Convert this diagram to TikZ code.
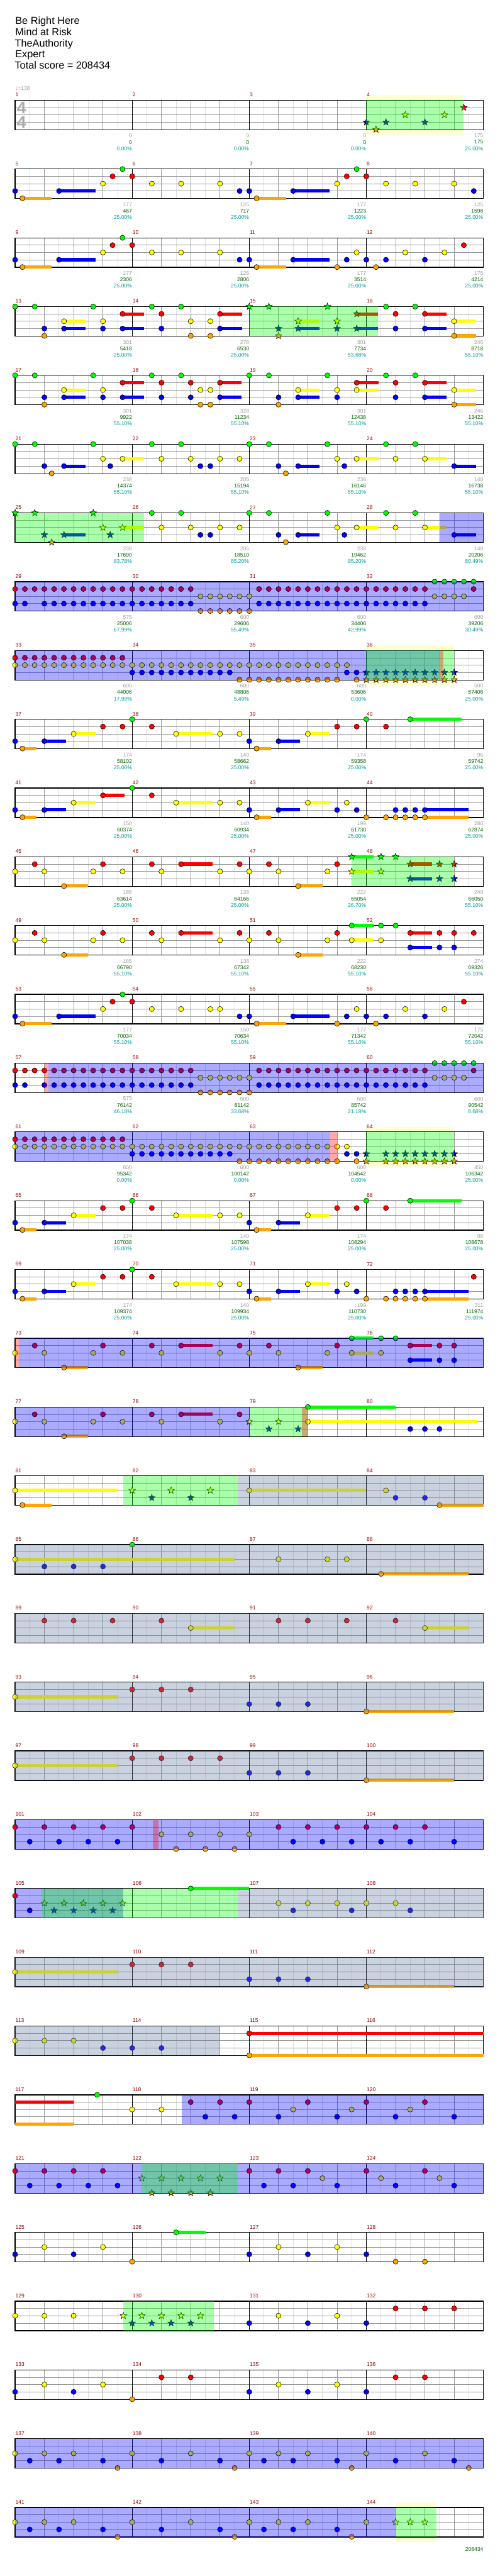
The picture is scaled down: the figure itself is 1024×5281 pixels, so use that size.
\documentclass[tikz,border=0pt]{standalone}
\usepackage{fontspec}
\setmainfont{Liberation Sans}
\newfontfamily\djv{DejaVu Sans}
\definecolor{L0}{RGB}{0,255,0}
\definecolor{L1}{RGB}{255,0,0}
\definecolor{L2}{RGB}{255,255,0}
\definecolor{L3}{RGB}{0,0,255}
\definecolor{L4}{RGB}{255,165,0}
\definecolor{GY}{RGB}{100,120,160}
\definecolor{MN}{RGB}{139,0,0}
\definecolor{SG}{RGB}{160,160,160}
\definecolor{SC}{RGB}{0,100,0}
\definecolor{SP}{RGB}{0,153,153}
\definecolor{HL}{RGB}{255,255,208}
\definecolor{GL}{RGB}{221,221,221}
\definecolor{GM}{RGB}{153,153,153}
\definecolor{TS}{RGB}{170,170,170}
\tikzset{
 smallfont/.style={font=\fontsize{5.5pt}{6pt}\selectfont, inner sep=0pt},
 mnum/.style={smallfont, text=MN, anchor=west},
 sgray/.style={smallfont, text=SG, anchor=east},
 sgreen/.style={smallfont, text=SC, anchor=east},
 scyan/.style={smallfont, text=SP, anchor=east},
 head/.style={font=\fontsize{10.5pt}{12pt}\selectfont, anchor=base west, inner sep=0pt},
 tsig/.style={font=\fontsize{17pt}{18pt}\selectfont\bfseries, text=TS, inner sep=0pt},
 halfline/.style={GL, line width=0.5pt},
 beatline/.style={GM, line width=0.5pt},
 barline/.style={black, line width=0.5pt},
 staffbox/.style={black, line width=0.8pt},
 notedot/.style={draw=black, line width=0.35pt},
 sus/.style={line width=3.3pt},
}
\newcommand\SetRow[1]{\pgfmathsetmacro\RT{205.5+141*#1}}
\newcommand\Staff[1]{%
 \fill[white] (31,\RT) rectangle (991,{\RT+60.5});
 \foreach \i in {1,3,...,31}{\draw[halfline] ({31+30*\i},\RT) -- ({31+30*\i},{\RT+60.5});}
 \foreach \i in {1,2,3,5,6,7,9,10,11,13,14,15}{\draw[beatline] ({31+60*\i},\RT) -- ({31+60*\i},{\RT+60.5});}
 \foreach \j in {15,30,45}{\draw[beatline] (31,{\RT+\j}) -- (991,{\RT+\j});}
 \foreach \i in {4,8,12}{\draw[barline] ({31+60*\i},\RT) -- ({31+60*\i},{\RT+60.5});}
 \draw[staffbox] (31,\RT) rectangle (991,{\RT+60.5});
 \foreach \i in {0,...,3}{\pgfmathtruncatemacro\mm{4*#1+\i+1}\node[mnum] (mn\mm) at ({31.5+240*\i},{\RT-11}) {\mm};}
}
\newcommand\Scores[2]{%
 \foreach \i/\g/\c/\p in {#2}{\pgfmathtruncatemacro\mm{4*#1+\i+1}
  \node[sgray] (sa\mm) at ({271+240*\i},{\RT+73}) {\g};
  \node[sgreen] (sb\mm) at ({271+240*\i},{\RT+86}) {\c};
  \node[scyan] (sc\mm) at ({271+240*\i},{\RT+99}) {\p\%};}
}
\newcommand\Nt[2]{\foreach \b in {#2}{\filldraw[notedot, fill=L#1] ({31+60*\b},{\RT+15*#1}) circle[radius=2.65pt];}}
\newcommand\Su[2]{\foreach \s/\e in {#2}{\draw[sus, L#1] ({31+60*\s},{\RT+15*#1}) -- ({31+60*\e},{\RT+15*#1});}}
\newcommand\St[2]{\foreach \b in {#2}{\filldraw[notedot, fill=L#1, shift={({31+60*\b},{\RT+15*#1})}] (90:3.6pt) -- (126:1.5pt) -- (162:3.6pt) -- (198:1.5pt) -- (234:3.6pt) -- (270:1.5pt) -- (306:3.6pt) -- (342:1.5pt) -- (18:3.6pt) -- (54:1.5pt) -- cycle;}}
\newcommand\Ov[3]{\fill[#1, opacity=0.3333] ({31+60*#2},\RT) rectangle ({31+60*#3},{\RT+60.5});}
\newcommand\Hl[2]{\fill[HL] ({31+60*#1},{\RT-10.5}) rectangle ({31+60*#2},{\RT+71});}
\begin{document}
\begin{tikzpicture}[x=0.5pt,y=-0.5pt]
\useasboundingbox (0,0) rectangle (1024,5281);
\fill[white] (0,0) rectangle (1024,5281);
% header
\node[head] (t1) at (31,49.5) {Be Right Here};
\node[head] (t2) at (31,72.5) {Mind at Risk};
\node[head] (t3) at (30,95.5) {TheAuthority};
\node[head] (t4) at (31,118.5) {Expert};
\node[head] (t5) at (30,141.5) {Total score = 208434};
\node[smallfont, text=SG, anchor=base west] (tempo) at (31,185) {{\djv ♩}=138};
% ---------- row 0
\SetRow{0}
\Hl{12}{15.33}
\Staff{0}
\node[tsig] (ts1) at (44,221) {4};
\node[tsig] (ts2) at (44,251) {4};
\Scores{0}{0/0/0/0.00,1/0/0/0.00,2/0/0/0.00,3/175/175/25.00}
\St{3}{12,12.67,14}\St{4}{12.33}\St{2}{13.33,14.67}\St{1}{15.33}
\Ov{L0}{12}{15.33}
% ---------- row 1
\SetRow{1}
\Staff{1}
\Scores{1}{0/177/467/25.00,1/125/717/25.00,2/177/1223/25.00,3/125/1598/25.00}
\Su{4}{0.25/1.25,8.25/9.25}\Su{3}{1.5/2.75,9.5/10.75}
\Nt{3}{0,1.5,7.67,8,9.5,15.67}
\Nt{4}{0.25,8.25}
\Nt{2}{3,4.67,5.67,7,11,12.67,13.67,15}
\Nt{1}{3.33,4,11.33,12}
\Nt{0}{3.67,11.67}
% ---------- row 2
\SetRow{2}
\Staff{2}
\Scores{2}{0/177/2306/25.00,1/125/2806/25.00,2/177/3514/25.00,3/175/4214/25.00}
\Su{4}{0.25/1.25,8.25/9.25}\Su{3}{1.5/2.75,9.5/10.75}
\Nt{3}{0,1.5,7.67,8,9.5,11.33,12,12.67,14}
\Nt{4}{0.25,8.25,11,12.33}
\Nt{2}{3,4.67,5.67,7,11.67,13.33,14.67}
\Nt{1}{3.33,4,15.33}
\Nt{0}{3.67}
% ---------- row 3
\SetRow{3}
\Staff{3}
\Scores{3}{0/301/5418/25.00,1/278/6530/25.00,2/301/7734/53.68,3/246/8718/55.10}
\Su{1}{3.67/4.4,7/7.75,14/14.75,11.67/12.4}
\Su{2}{1.67/2.4,15/15.75,9.67/10.4}
\Su{3}{1.67/2.4,3.67/4.4,7/7.75,14/14.75,9.67/10.4,11.67/12.4}
\Su{4}{15/15.75}
\Nt{0}{0,0.67,2.67,4.67,5.67,12.67,13.67}
\Nt{1}{3.67,5,7,13,14}
\Nt{2}{1.67,3,6,6.67,15}
\Nt{3}{1,1.67,3,3.67,5,7,13,14}
\Nt{4}{1,6,6.67,15}
\St{0}{8,8.67,10.67}\St{3}{9,9.67,11,11.67}\St{4}{9}\St{2}{9.67,11}\St{1}{11.67}
\Ov{L0}{8}{12.4}
% ---------- row 4
\SetRow{4}
\Staff{4}
\Scores{4}{0/301/9922/55.10,1/328/11234/55.10,2/301/12438/55.10,3/246/13422/55.10}
\Su{1}{3.67/4.41,7/7.74,11.67/12.41,14/14.75}
\Su{2}{1.67/2.41,9.67/10.4,11.67/12.41,15/15.74}
\Su{3}{1.67/2.41,3.67/4.41,7/7.74,9.67/10.4,14/14.75}
\Su{4}{15/15.74}
\Nt{0}{0,0.67,2.67,4.67,5.67,8,8.67,10.67,12.67,13.67}
\Nt{1}{3.67,5,6,7,11.67,13,14}
\Nt{2}{1.67,3,6.33,6.67,9.67,11,11.67,15}
\Nt{3}{1,1.67,3,3.67,5,6,7,9,9.67,11,13,14}
\Nt{4}{1,6.33,6.67,9,15}
% ---------- row 5
\SetRow{5}
\Staff{5}
\Scores{5}{0/238/14374/55.10,1/205/15194/55.10,2/238/16146/55.10,3/148/16738/55.10}
\Su{2}{3.67/4.41,11.67/12.41,14/14.75}
\Su{3}{1.67/2.41,9.67/10.4,15/15.74}
\Nt{0}{0,0.67,2.67,4.67,5.67,8,8.67,10.67,12.67,13.67}
\Nt{2}{3,3.67,5,6,7,7.67,11,11.67,13,14}
\Nt{3}{1,1.67,3.25,6.33,6.67,9,9.67,11.25,15}
\Nt{4}{1.25,9.25}
% ---------- row 6
\SetRow{6}
\Staff{6}
\Scores{6}{0/238/17690/83.78,1/205/18510/85.20,2/238/19462/85.20,3/148/20206/80.49}
\Su{2}{3.67/4.41,11.67/12.41,14/14.75}
\Su{3}{1.67/2.41,9.67/10.4,15/15.74}
\St{0}{0,0.67,2.67}\St{2}{3,3.67}\St{3}{1,1.67,3.25}\St{4}{1.25}
\Nt{0}{4.67,5.67,8,8.67,10.67,12.67,13.67}
\Nt{2}{5,6,7,7.67,11,11.67,13,14}
\Nt{3}{6.33,6.67,9,9.67,11.25,15}
\Nt{4}{9.25}
\Ov{L0}{0}{4.41}
\Ov{L3}{14.5}{16}
% ---------- row 7
\SetRow{7}
\Staff{7}
\Scores{7}{0/575/25006/67.99,1/600/29606/55.49,2/600/34406/42.99,3/600/39206/30.49}
\Nt{1}{0,0.33333,...,6}
\Nt{3}{0,0.33333}\Nt{3}{1,1.33333,...,6}
\Nt{2}{6.33333,6.66666,...,8}\Nt{4}{6.33333,6.66666,...,8}
\Nt{1}{8.33333,8.66666,...,14}\Nt{3}{8.33333,8.66666,...,14}
\Nt{0}{14.33333,14.66666,...,15.67}\Nt{2}{14.33333,14.66666,...,15.34}\Nt{1}{15.66667}
\Ov{L3}{0}{16}
% ---------- row 8
\SetRow{8}
\Hl{12}{15}
\Staff{8}
\Scores{8}{0/600/44006/17.99,1/600/48806/5.49,2/600/53606/0.00,3/500/57406/25.00}
\Nt{1}{0,0.33333,...,3.67}
\Nt{2}{0,0.33333,...,11.34}
\Nt{3}{4,4.33333,...,7.34}\Nt{3}{11.33333,11.66667}
\Nt{4}{7.66667,8,...,11.01}\Nt{4}{11.66667}
\St{3}{12,12.33333,...,15.01}\St{4}{12,12.33333,...,15.01}
\Ov{L3}{0}{14.5}
\Ov{L0}{12}{15}
\Ov{L1}{14.5}{14.64}
% ---------- row 9
\SetRow{9}
\Staff{9}
\Scores{9}{0/174/58102/25.00,1/140/58662/25.00,2/174/59358/25.00,3/96/59742/25.00}
\Su{4}{0.25/0.74,8.25/8.74}\Su{3}{1/1.74,9/9.74}\Su{2}{2/2.74,5.5/6.75,10/10.74}\Su{0}{13.5/15.25}
\Nt{3}{0,1,8,9}
\Nt{4}{0.25,8.25}
\Nt{2}{2,5.5,7,7.67,10}
\Nt{1}{3,3.67,4.67,11,11.67,12.67}
\Nt{0}{4,12,13.5}
% ---------- row 10
\SetRow{10}
\Staff{10}
\Scores{10}{0/158/60374/25.00,1/140/60934/25.00,2/199/61730/25.00,3/286/62874/25.00}
\Su{4}{0.25/0.74,8.25/8.74,14/15.5}\Su{3}{1/1.74,9/9.74,14/15.5}\Su{2}{2/2.74,5.5/6.75,10/10.74}\Su{1}{3/3.74}
\Nt{3}{0,1,8,9,11,11.67,13,13.33,13.67,14}
\Nt{4}{0.25,8.25,12,12.67,13,13.33,13.67,14}
\Nt{2}{2,5.5,7,7.67,10,11.33}
\Nt{1}{3,4.67}
\Nt{0}{4}
% ---------- row 11
\SetRow{11}
\Staff{11}
\Scores{11}{0/185/63614/25.00,1/138/64166/25.00,2/222/65054/26.70,3/249/66050/55.10}
\Su{1}{5.67/6.75,13.5/14.25}\Su{4}{1.67/2.5,9.67/10.5}\Su{0}{11.5/12.25}\Su{2}{11.5/12.25}\Su{3}{13.5/14.25}
\Nt{1}{0.67,3,4.67,5.67,7.67,8.67,11}
\Nt{2}{0,1,2.67,3.67,5,7,8,9,10.67}
\Nt{4}{1.67,9.67}
\St{0}{11.5,12.5,13}\St{2}{11.5,12.5}\St{1}{13.5,14.5,15}\St{3}{13.5,14.5,15}
\Ov{L0}{11.5}{15}
% ---------- row 12
\SetRow{12}
\Staff{12}
\Scores{12}{0/185/66790/55.10,1/138/67342/55.10,2/222/68230/55.10,3/274/69326/55.10}
\Su{1}{5.67/6.75,13.5/14.25}\Su{4}{1.67/2.5,9.67/10.5}\Su{0}{11.5/12.25}\Su{2}{11.5/12.25}\Su{3}{13.5/14.25}
\Nt{1}{0.67,3,4.67,5.67,7.67,8.67,11,13.5,14.5,15,15.67}
\Nt{2}{0,1,2.67,3.67,5,7,8,9,10.67,11.5,12.5}
\Nt{4}{1.67,9.67}
\Nt{0}{11.5,12.5,13}
\Nt{3}{13.5,14.5,15}
% ---------- row 13
\SetRow{13}
\Staff{13}
\Scores{13}{0/177/70034/55.10,1/150/70634/55.10,2/177/71342/55.10,3/175/72042/55.10}
\Su{4}{0.25/1.25,8.25/9.25}\Su{3}{1.5/2.75,9.5/10.75}
\Nt{3}{0,1.5,7.67,8,9.5,11.33,12,12.67,14}
\Nt{4}{0.25,8.25,11,12.33}
\Nt{2}{3,4.67,5.67,6.67,7,11.67,13.33,14.67}
\Nt{1}{3.33,4,15.33}
\Nt{0}{3.67}
% ---------- row 14
\SetRow{14}
\Staff{14}
\Scores{14}{0/575/76142/46.18,1/600/81142/33.68,2/600/85742/21.18,3/600/90542/8.68}
\Nt{1}{0,0.33333,...,6}
\Nt{3}{0,0.33333}\Nt{3}{1,1.33333,...,6}
\Nt{2}{6.33333,6.66666,...,8}\Nt{4}{6.33333,6.66666,...,8}
\Nt{1}{8.33333,8.66666,...,14}\Nt{3}{8.33333,8.66666,...,14}
\Nt{0}{14.33333,14.66666,...,15.67}\Nt{2}{14.33333,14.66666,...,15.34}\Nt{1}{15.66667}
\Ov{L3}{1.13}{16}
\Ov{L1}{1}{1.13}
% ---------- row 15
\SetRow{15}
\Hl{12}{15}
\Staff{15}
\Scores{15}{0/600/95342/0.00,1/600/100142/0.00,2/600/104542/0.00,3/450/106342/25.00}
\Nt{1}{0,0.33333,...,3.67}
\Nt{2}{0,0.33333,...,11.34}
\Nt{3}{4,4.33333,...,7.34}\Nt{3}{11.33333,11.66667}
\Nt{4}{7.66667,8,...,11.01}\Nt{4}{11.66667}
\St{3}{12}\St{3}{12.66667,13,...,15.01}\St{4}{12}\St{4}{12.66667,13,...,15.01}
\Ov{L3}{0}{10.76}
\Ov{L1}{10.76}{11}
\Ov{L0}{12}{15}
% ---------- row 16
\SetRow{16}
\Staff{16}
\Scores{16}{0/174/107038/25.00,1/140/107598/25.00,2/174/108294/25.00,3/96/108678/25.00}
\Su{4}{0.25/0.74,8.25/8.74}\Su{3}{1/1.74,9/9.74}\Su{2}{2/2.74,5.5/6.75,10/10.74}\Su{0}{13.5/15.25}
\Nt{3}{0,1,8,9}
\Nt{4}{0.25,8.25}
\Nt{2}{2,5.5,7,7.67,10}
\Nt{1}{3,3.67,4.67,11,11.67,12.67}
\Nt{0}{4,12,13.5}
% ---------- row 17
\SetRow{17}
\Staff{17}
\Scores{17}{0/174/109374/25.00,1/140/109934/25.00,2/199/110730/25.00,3/311/111974/25.00}
\Su{4}{0.25/0.74,8.25/8.74,14/15.5}\Su{3}{1/1.74,9/9.74,14/15.5}\Su{2}{2/2.74,5.5/6.75,10/10.74}
\Nt{3}{0,1,8,9,11,11.67,13,13.33,13.67,14}
\Nt{4}{0.25,8.25,12,12.67,13,13.33,13.67,14}
\Nt{2}{2,5.5,7,7.67,10,11.33}
\Nt{1}{3,3.67,4.67,15.67}
\Nt{0}{4}
% ---------- row 18
\SetRow{18}\Staff{18}
\Su{1}{5.67/6.75,13.5/14.25}\Su{4}{1.67/2.5,9.67/10.5}\Su{0}{11.5/12.25}\Su{2}{11.5/12.25}\Su{3}{13.5/14.25}
\Nt{1}{0.67,3,4.67,5.67,7.67,8.67,11,13.5,14.5,15}
\Nt{2}{0,1,2.67,3.67,5,7,8,9,10.67,11.5,12.5}
\Nt{4}{1.67,9.67}
\Nt{0}{11.5,12.5,13}
\Nt{3}{13.5,14.5,15}
\Ov{L3}{0.13}{16}\Ov{L1}{0}{0.13}
% ---------- row 19
\SetRow{19}\Staff{19}
\Su{1}{5.67/6.75}\Su{4}{1.67/2.5}\Su{0}{10/13}\Su{2}{10/15.8}
\Nt{1}{0.67,3,4.67,5.67,7.67}
\Nt{2}{0,1,2.67,3.67,5,7,10}
\Nt{4}{1.67}
\St{2}{8,9}\St{3}{8.67,9.67}
\Nt{0}{10}
\Nt{3}{13.5,14,14.5}
\Ov{L3}{0}{8}\Ov{L0}{8}{10}\Ov{L1}{9.8}{10}
% ---------- row 20
\SetRow{20}\Staff{20}
\Su{2}{0/3.5,8/12}\Su{4}{0.25/1.25,14.5/16}
\Nt{2}{0,8,12.67}\Nt{4}{0.25,14.5}\Nt{3}{13,14}
\St{2}{4,5.33,6.67}\St{3}{4.67,6}
\Ov{L0}{3.7}{7.6}\Ov{GY}{7.6}{16}
% ---------- row 21
\SetRow{21}\Staff{21}
\Su{2}{0/7.5}\Su{4}{12.5/15.5}
\Nt{2}{0,9,10.67,11.33}\Nt{0}{4}\Nt{3}{1,2,3}\Nt{4}{12.5}
\Ov{GY}{0}{16}
% ---------- row 22
\SetRow{22}\Staff{22}
\Su{2}{6/7.5,14/15.5}
\Nt{1}{1,2,3.33,5,9,10,11.33,13}\Nt{2}{6,14}
\Ov{GY}{0}{16}
% ---------- row 23
\SetRow{23}\Staff{23}
\Su{2}{0/3.5}\Su{4}{12/15}
\Nt{2}{0}\Nt{1}{4,5,6}\Nt{3}{8,9,10}\Nt{4}{12}
\Ov{GY}{0}{16}
% ---------- row 24
\SetRow{24}\Staff{24}
\Su{2}{0/3.5}\Su{4}{12/15}
\Nt{2}{0}\Nt{1}{4,5,6,7}\Nt{3}{8,9,10}\Nt{4}{12}
\Ov{GY}{0}{16}
% ---------- row 25
\SetRow{25}\Staff{25}
\Nt{1}{0,1,2,3,4}\Nt{3}{0.5,1.5,2.5,3.5}
\Nt{2}{5,6,7,8}\Nt{4}{5.5,6.5,7.5}
\Nt{1}{9,10,11,12,13,14}\Nt{3}{9.5,10.5,11.5,12.5,13.5,15}
\Ov{L3}{0}{16}\Ov{L1}{4.7}{4.9}
% ---------- row 26
\SetRow{26}\Staff{26}
\Su{0}{6/8}
\Nt{1}{0}\Nt{3}{0.5}
\St{2}{1,1.67,2.33,3,3.67}\St{3}{1.33,2,2.67,3.33}
\Nt{0}{6}\Nt{2}{9,10,11,12,13}\Nt{3}{9.5,11.5,13.5}
\Ov{L3}{0}{3.7}\Ov{L0}{0.9}{7.6}\Ov{GY}{7.6}{16}
% ---------- row 27
\SetRow{27}\Staff{27}
\Su{2}{0/3.5}\Su{4}{12/15}
\Nt{2}{0}\Nt{1}{4,5,6}\Nt{3}{8,9,10}\Nt{4}{12}
\Ov{GY}{0}{16}
% ---------- row 28
\SetRow{28}\Staff{28}
\Su{1}{8/16}\Su{4}{8/16}
\Nt{2}{0,1,2}\Nt{3}{3,4,5}\Nt{1}{8}\Nt{4}{8}
\Ov{GY}{0}{7}
% ---------- row 29
\SetRow{29}\Staff{29}
\Su{1}{0/2}\Su{4}{0/2}
\Nt{0}{2.8}\Nt{2}{4,5}
\Nt{1}{6,7,8,10,12,14}\Nt{3}{6.5,7.5,9,11,13,15}\Nt{2}{9.5,11.5,13.5}
\Ov{L3}{5.7}{16}
% ---------- row 30
\SetRow{30}\Staff{30}
\Nt{1}{0,1,2,3}\Nt{3}{0.5,1.5,2.5,3.5}
\St{2}{4.33,5,5.67,6.33,7}\St{4}{4.67,5.33,6,6.67}
\Nt{1}{8,9,10,12,14}\Nt{3}{8.5,9.5,11,13,15}\Nt{2}{10.5,12.5,14.5}
\Ov{L3}{0}{16}\Ov{L0}{4.3}{7.6}
% ---------- row 31
\SetRow{31}\Staff{31}
\Su{0}{5.5/6.5}
\Nt{0}{5.5}\Nt{2}{1,3,9,11}\Nt{3}{0,2,8,10,12}\Nt{4}{4,13,14}
% ---------- row 32
\SetRow{32}\Staff{32}
\St{2}{3.7,4.33,5,5.67,6.33}\St{3}{4,4.67,5.33,6}
\Nt{2}{0,1,2,9,11}\Nt{3}{8,10,12}\Nt{1}{13,14,15}
\Ov{L0}{3.7}{6.8}
% ---------- row 33
\SetRow{33}\Staff{33}
\Nt{2}{1,3,9,11}\Nt{3}{0,2,8,10,12}\Nt{1}{5,6,13,14}\Nt{4}{4}
% ---------- row 34
\SetRow{34}\Staff{34}
\Nt{2}{0,1,2,4,6,8,9,10,12,14}\Nt{3}{0.5,1.5,3,5,7,8.5,9.5,11,13,15}\Nt{4}{3.5,7.5,11.5,15.5}
\Ov{L3}{0}{16}
% ---------- row 35
\SetRow{35}\Hl{13}{14.4}\Staff{35}
\Nt{2}{0,1,2,4,6,8,9,10,12}\Nt{3}{0.5,1.5,3,5,7,8.5,9.5,11}\Nt{4}{3.5,7.5,11.5}
\St{2}{13,13.5,14}
\Ov{L3}{0}{13}\Ov{L0}{13}{14.4}
\node[sgreen] (sb144) at (991,{\RT+86}) {208434};
\end{tikzpicture}
\end{document}
